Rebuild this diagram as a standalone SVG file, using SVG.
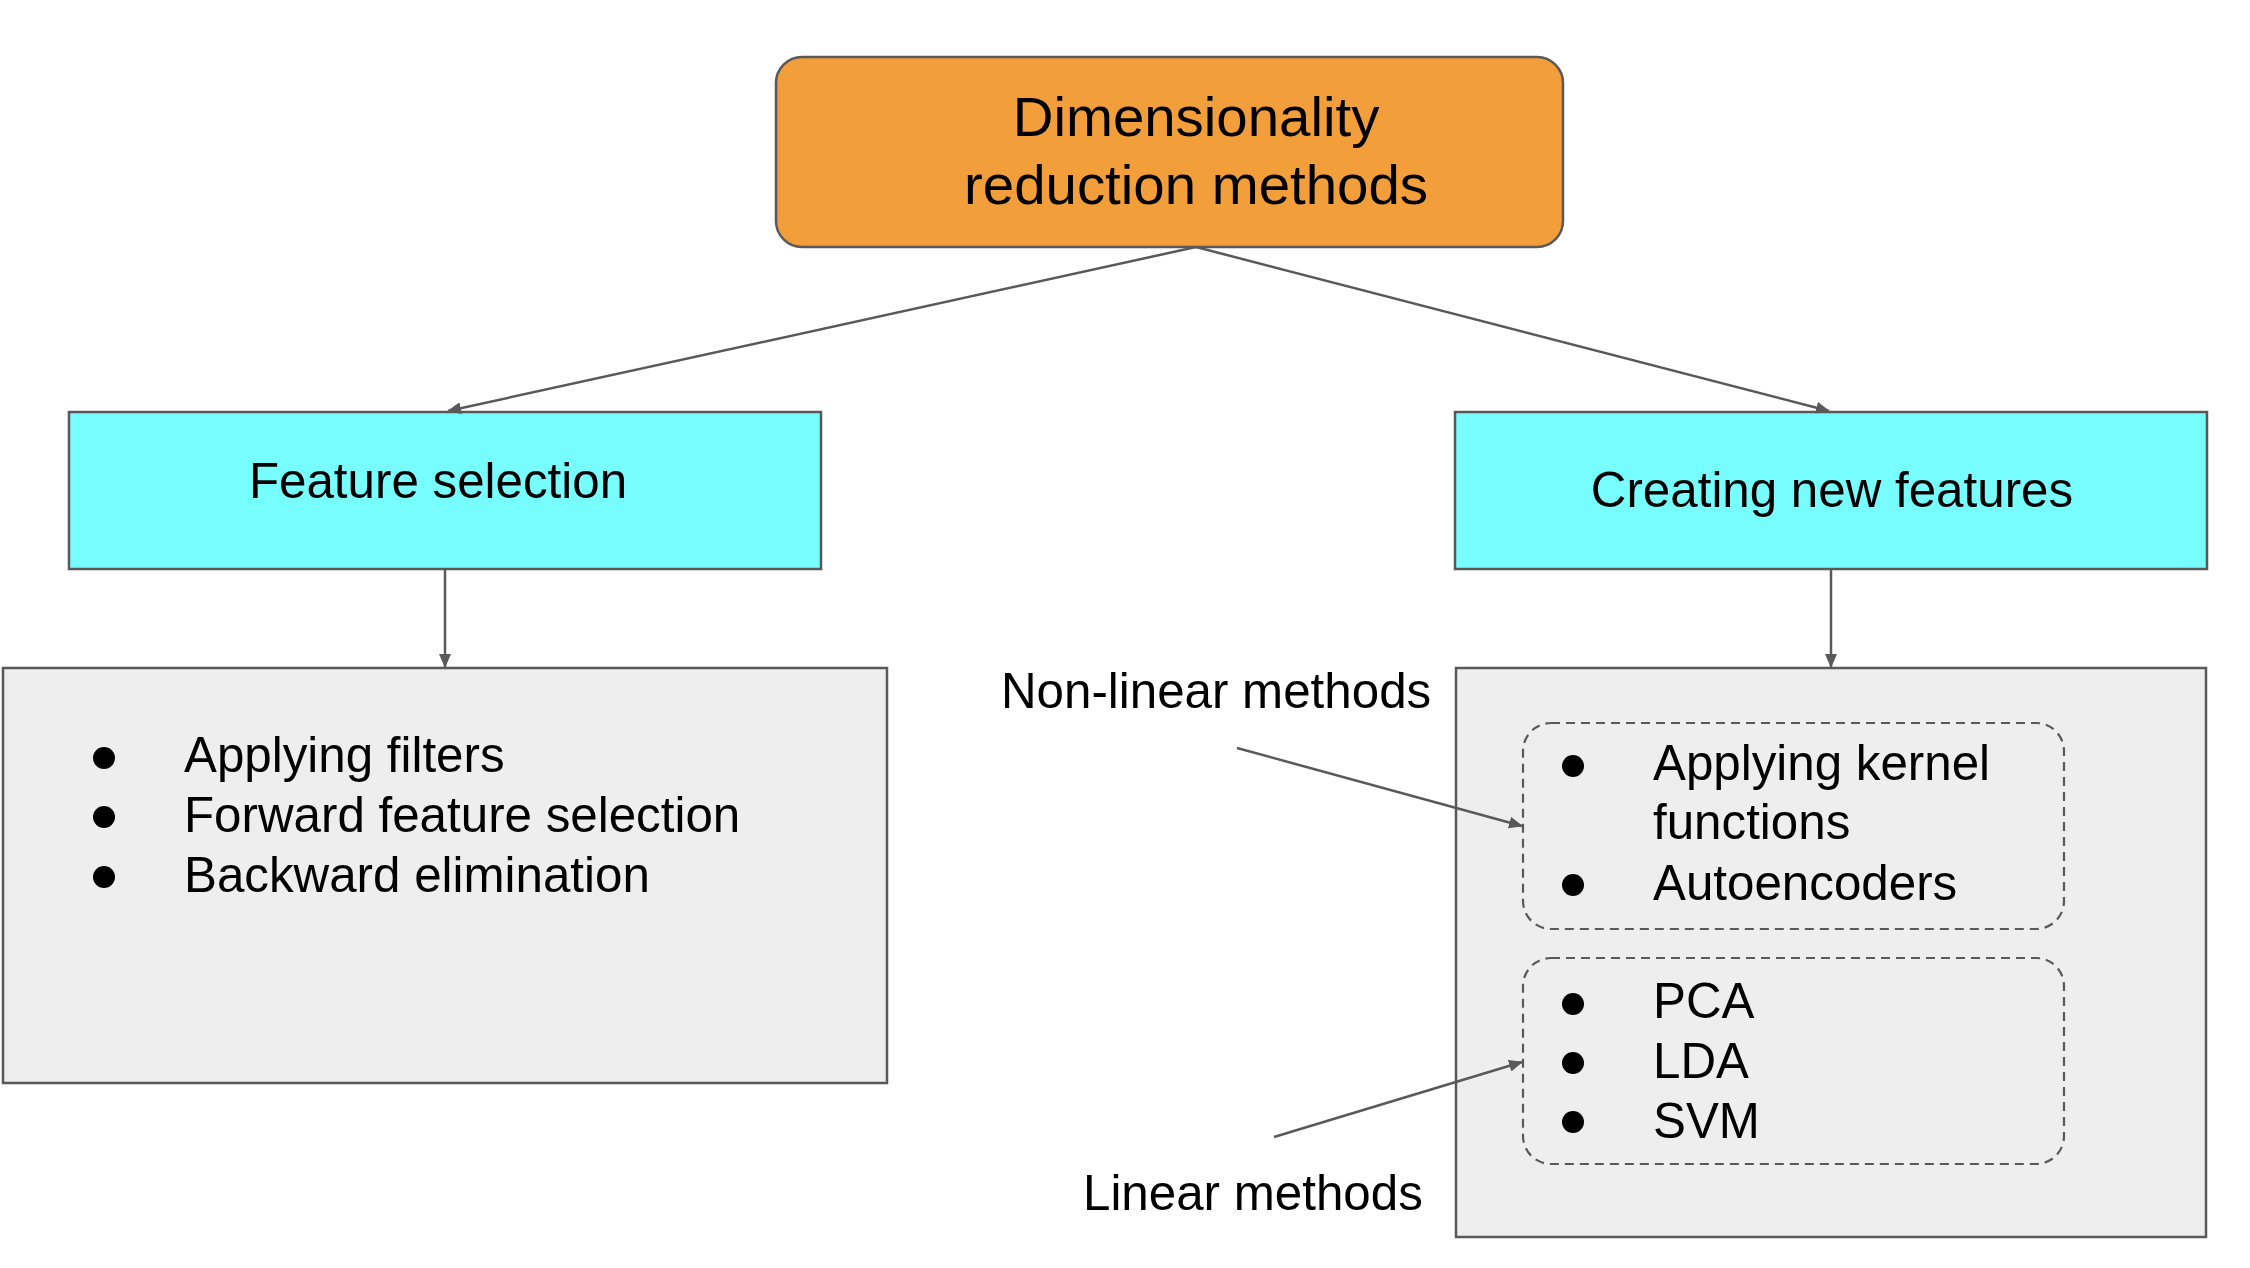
<svg xmlns="http://www.w3.org/2000/svg" width="2250" height="1268" viewBox="0 0 2250 1268">
  <style>
    .t { font-family: "Liberation Sans", Arial, sans-serif; fill: #000000; }
    .m { font-size: 49.3px; }
    .big { font-size: 56.4px; }
    .box { stroke: #595959; stroke-width: 2.5; }
    .conn { stroke: #595959; stroke-width: 2.5; fill: none; marker-end: url(#arrow); }
    .dash { fill: none; stroke: #595959; stroke-width: 2.2; stroke-dasharray: 9 6; }
  </style>
  <defs>
    <marker id="arrow" viewBox="0 0 14 12" refX="13" refY="6" markerWidth="14" markerHeight="12" markerUnits="userSpaceOnUse" orient="auto">
      <path d="M0,0 L14,6 L0,12 z" fill="#595959"/>
    </marker>
  </defs>
  <rect width="2250" height="1268" fill="#ffffff"/>

  <g id="node-root">
    <rect class="box" x="776" y="57" width="787" height="190" rx="26" ry="26" fill="#F29E3A"/>
    <text class="t big" x="1196" y="136" text-anchor="middle">Dimensionality</text>
    <text class="t big" x="1196" y="204" text-anchor="middle">reduction methods</text>
  </g>

  <g id="node-feature-selection">
    <rect class="box" x="69" y="412" width="752" height="157" fill="#78FDFF"/>
    <text class="t m" x="438" y="498" text-anchor="middle">Feature selection</text>
  </g>

  <g id="node-creating-new-features">
    <rect class="box" x="1455" y="412" width="752" height="157" fill="#78FDFF"/>
    <text class="t m" x="1832" y="507" text-anchor="middle">Creating new features</text>
  </g>

  <g id="node-selection-methods">
    <rect class="box" x="3" y="668" width="884" height="415" fill="#EEEEEE"/>
    <circle cx="104" cy="758" r="11"/>
    <circle cx="104" cy="817" r="11"/>
    <circle cx="104" cy="877" r="11"/>
    <text class="t m" x="184" y="772">Applying filters</text>
    <text class="t m" x="184" y="832">Forward feature selection</text>
    <text class="t m" x="184" y="892">Backward elimination</text>
  </g>

  <g id="node-new-feature-methods">
    <rect class="box" x="1456" y="668" width="750" height="569" fill="#EEEEEE"/>
  </g>

  <g id="node-nonlinear-group">
    <rect class="dash" x="1523" y="723" width="541" height="206" rx="28" ry="28"/>
    <circle cx="1573" cy="766" r="11"/>
    <circle cx="1573" cy="885" r="11"/>
    <text class="t m" x="1653" y="780">Applying kernel</text>
    <text class="t m" x="1653" y="839">functions</text>
    <text class="t m" x="1653" y="900">Autoencoders</text>
  </g>

  <g id="node-linear-group">
    <rect class="dash" x="1523" y="958" width="541" height="206" rx="28" ry="28"/>
    <circle cx="1573" cy="1004" r="11"/>
    <circle cx="1573" cy="1063" r="11"/>
    <circle cx="1573" cy="1122" r="11"/>
    <text class="t m" x="1653" y="1018">PCA</text>
    <text class="t m" x="1653" y="1078">LDA</text>
    <text class="t m" x="1653" y="1138">SVM</text>
  </g>

  <g id="label-nonlinear">
    <text class="t m" x="1001" y="708">Non-linear methods</text>
  </g>
  <g id="label-linear">
    <text class="t m" x="1083" y="1210">Linear methods</text>
  </g>

  <g id="connectors">
    <line class="conn" x1="1196" y1="247" x2="448" y2="411"/>
    <line class="conn" x1="1196" y1="247" x2="1829" y2="411"/>
    <line class="conn" x1="445" y1="569" x2="445" y2="667"/>
    <line class="conn" x1="1831" y1="569" x2="1831" y2="667"/>
    <line class="conn" x1="1237" y1="748" x2="1522" y2="826"/>
    <line class="conn" x1="1274" y1="1137" x2="1522" y2="1062"/>
  </g>
</svg>
